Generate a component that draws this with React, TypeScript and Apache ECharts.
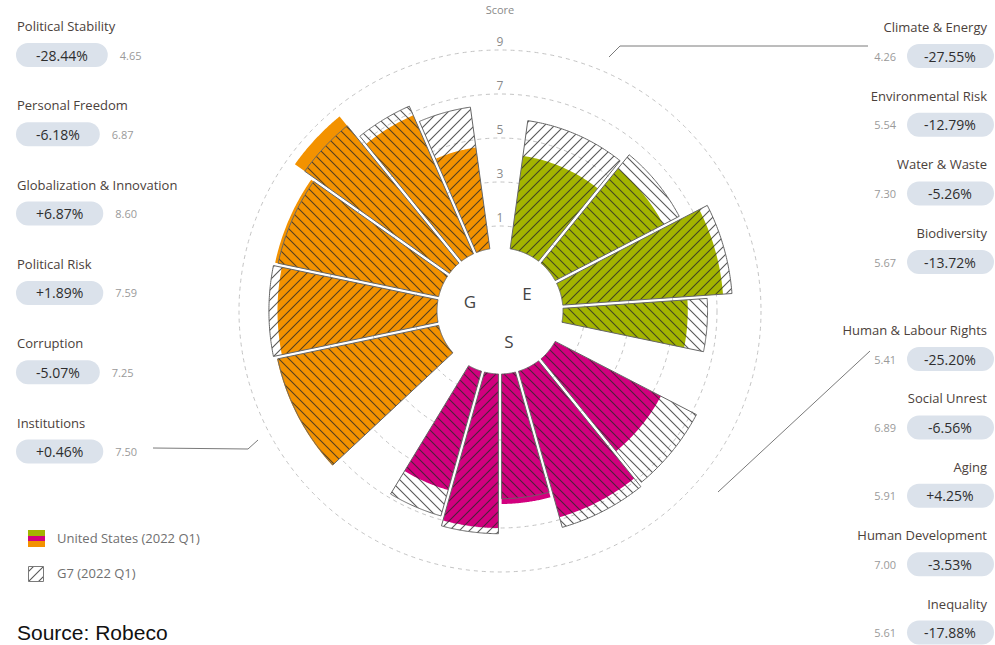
import React, { useEffect, useRef } from 'react';
import * as echarts from 'echarts';

// Country sustainability scores, listed clockwise from the top of the rose
const categories = [
  'Climate & Energy', 'Environmental Risk', 'Water & Waste', 'Biodiversity',
  'Human & Labour Rights', 'Social Unrest', 'Aging', 'Human Development', 'Inequality',
  'Institutions', 'Corruption', 'Political Risk', 'Globalization & Innovation', 'Personal Freedom', 'Political Stability',
];
const pillars = ['E', 'E', 'E', 'E', 'S', 'S', 'S', 'S', 'S', 'G', 'G', 'G', 'G', 'G', 'G'];
const weights = [4, 3, 3, 2, 3, 3, 2, 2, 2, 4, 3, 3, 2, 2, 2];
const usScores = [4.26, 5.54, 7.30, 5.67, 5.41, 6.89, 5.91, 7.00, 5.61, 7.50, 7.25, 7.59, 8.60, 6.87, 4.65];
const g7Scores = [5.88, 6.35, 7.71, 6.57, 7.23, 7.37, 5.67, 7.26, 6.83, 7.47, 7.64, 7.45, 8.05, 7.32, 6.50];
const diffVsG7 = ['-27.55%', '-12.79%', '-5.26%', '-13.72%', '-25.20%', '-6.56%', '+4.25%', '-3.53%', '-17.88%',
  '+0.46%', '-5.07%', '+1.89%', '+6.87%', '-6.18%', '-28.44%'];
const ringLabels = [1, 3, 5, 7, 9];
const seriesNames = ['United States (2022 Q1)', 'G7 (2022 Q1)'];
const pillarGap = 2;

const FONT = '"Open Sans", "Noto Sans", sans-serif';
const CX = 500;
const CY = 311;
const PILLAR_COLORS: Record<string, string> = { E: '#a3b400', S: '#d2007e', G: '#f39200' };
const RISING_HATCH = new Set(['Climate & Energy', 'Water & Waste', 'Human Development', 'Corruption', 'Political Stability']);
const PILL_BG = '#dbe2eb';
const NAME_COLOR = '#4b413b';
const NUM_COLOR = '#9a9a9a';
const OUTLINE = '#666666';

// angular span (in weight units) of every bar, with a gap between pillars
const spans: [number, number][] = [];
let cursor = pillarGap / 2;
categories.forEach((_, i) => {
  if (i > 0 && pillars[i] !== pillars[i - 1]) cursor += pillarGap;
  spans.push([cursor, cursor + weights[i]]);
  cursor += weights[i];
});
const angleMax = cursor + pillarGap / 2;

function hatch(rising: boolean) {
  const s = 10;
  const d = rising
    ? `M0 ${s} L${s} 0 M-2 2 L2 -2 M${s - 2} ${s + 2} L${s + 2} ${s - 2}`
    : `M0 0 L${s} ${s} M-2 ${s - 2} L2 ${s + 2} M${s - 2} -2 L${s + 2} 2`;
  const svg = `<svg xmlns="http://www.w3.org/2000/svg" width="${s}" height="${s}"><path d="${d}" stroke="rgba(40,40,40,0.78)" stroke-width="1.1" fill="none"/></svg>`;
  return {
    image: 'data:image/svg+xml;charset=utf-8,' + encodeURIComponent(svg),
    repeat: 'repeat',
    imageWidth: s,
    imageHeight: s,
  };
}

// annular sector as a polygon whose radial edges are pulled in by a constant pad
function sectorPoints(params: any, api: any, pad: number) {
  const cs = params.coordSys;
  const cx = cs.cx;
  const cy = cs.cy;
  const a0 = api.value(1);
  const a1 = api.value(2);
  const p0 = api.coord([0, a0]);
  const p1 = api.coord([0, a1]);
  const pv = api.coord([api.value(0), a0]);
  const r0 = Math.hypot(p0[0] - cx, p0[1] - cy);
  const r1 = Math.hypot(pv[0] - cx, pv[1] - cy);
  const t0 = Math.atan2(p0[1] - cy, p0[0] - cx);
  let t1 = Math.atan2(p1[1] - cy, p1[0] - cx);
  while (t1 <= t0) t1 += Math.PI * 2;
  const pts: number[][] = [];
  const n = 48;
  const po = Math.asin(Math.min(pad / r1, 1));
  const pi = Math.asin(Math.min(pad / r0, 1));
  for (let k = 0; k <= n; k++) {
    const a = t0 + po + (t1 - t0 - 2 * po) * (k / n);
    pts.push([cx + r1 * Math.cos(a), cy + r1 * Math.sin(a)]);
  }
  for (let k = n; k >= 0; k--) {
    const a = t0 + pi + (t1 - t0 - 2 * pi) * (k / n);
    pts.push([cx + r0 * Math.cos(a), cy + r0 * Math.sin(a)]);
  }
  return pts;
}

function sideLabels(): any[] {
  const out: any[] = [];
  // left column: governance, top to bottom
  const leftOrder = [14, 13, 12, 11, 10, 9];
  leftOrder.forEach((i, k) => {
    const yName = 26 + 79.3 * k;
    const yPill = yName + 29;
    out.push({
      type: 'text', x: 17, y: yName,
      style: { text: categories[i], font: `13px ${FONT}`, fill: NAME_COLOR, align: 'left', verticalAlign: 'middle' },
    });
    out.push({
      type: 'text', x: 16, y: yPill,
      style: {
        text: `{p|${diffVsG7[i]}}{n|${usScores[i].toFixed(2)}}`,
        align: 'left', verticalAlign: 'middle',
        rich: {
          p: {
            fill: '#2e2e2e', fontSize: 14, fontFamily: FONT, lineHeight: 16,
            backgroundColor: PILL_BG, borderRadius: 13, padding: [5, 20, 5, 20], verticalAlign: 'middle',
          },
          n: { fill: NUM_COLOR, fontSize: 11, fontFamily: FONT, lineHeight: 16, padding: [0, 0, 0, 12], verticalAlign: 'middle' },
        },
      },
    });
  });
  // right column: environment then social
  for (let i = 0; i <= 8; i++) {
    const yName = i < 4 ? 27 + 68.7 * i : 330 + 68.4 * (i - 4);
    const yPill = yName + 29;
    out.push({
      type: 'text', x: 987, y: yName,
      style: { text: categories[i], font: `13px ${FONT}`, fill: NAME_COLOR, align: 'right', verticalAlign: 'middle' },
    });
    out.push({
      type: 'rect', shape: { x: 907, y: yPill - 12, width: 87, height: 24, r: 12 },
      style: { fill: PILL_BG },
    });
    out.push({
      type: 'text', x: 950, y: yPill,
      style: { text: diffVsG7[i], font: `14px ${FONT}`, fill: '#2e2e2e', align: 'center', verticalAlign: 'middle' },
    });
    out.push({
      type: 'text', x: 896, y: yPill,
      style: { text: usScores[i].toFixed(2), font: `11px ${FONT}`, fill: NUM_COLOR, align: 'right', verticalAlign: 'middle' },
    });
  }
  return out;
}

function decorations(): any[] {
  const line = { stroke: '#7a7a7a', lineWidth: 1, fill: 'none' };
  return [
    { type: 'text', x: CX, y: 9, style: { text: 'Score', font: `11px ${FONT}`, fill: '#8a8a8a', align: 'center', verticalAlign: 'middle' } },
    { type: 'polyline', shape: { points: [[609, 57], [620, 46], [868, 46]] }, style: line },
    { type: 'polyline', shape: { points: [[153, 448], [248, 449], [258, 440]] }, style: line },
    { type: 'polyline', shape: { points: [[718, 492], [870, 351]] }, style: line },
    { type: 'text', x: CX - 30, y: CY - 10, style: { text: 'G', font: `17px ${FONT}`, fill: '#444', align: 'center', verticalAlign: 'middle' } },
    { type: 'text', x: CX + 27, y: CY - 18, style: { text: 'E', font: `17px ${FONT}`, fill: '#444', align: 'center', verticalAlign: 'middle' } },
    { type: 'text', x: CX + 9, y: CY + 30, style: { text: 'S', font: `17px ${FONT}`, fill: '#444', align: 'center', verticalAlign: 'middle' } },
    // legend
    { type: 'rect', shape: { x: 28, y: 530, width: 17, height: 6 }, style: { fill: PILLAR_COLORS.E } },
    { type: 'rect', shape: { x: 28, y: 536, width: 17, height: 5 }, style: { fill: PILLAR_COLORS.S } },
    { type: 'rect', shape: { x: 28, y: 541, width: 17, height: 6 }, style: { fill: PILLAR_COLORS.G } },
    { type: 'text', x: 57, y: 538, style: { text: seriesNames[0], font: `13px ${FONT}`, fill: '#707070', align: 'left', verticalAlign: 'middle' } },
    { type: 'rect', shape: { x: 28.5, y: 566.5, width: 15, height: 15 }, style: { fill: hatch(true), stroke: '#7a7a7a', lineWidth: 1 } },
    { type: 'text', x: 57, y: 573, style: { text: seriesNames[1], font: `13px ${FONT}`, fill: '#707070', align: 'left', verticalAlign: 'middle' } },
    { type: 'text', x: 17, y: 632, style: { text: 'Source: Robeco', font: `21px "Liberation Sans", sans-serif`, fill: '#111', align: 'left', verticalAlign: 'middle' } },
  ];
}

export default function App() {
  const ref = useRef<HTMLDivElement>(null);

  useEffect(() => {
    const el = ref.current;
    if (!el) return;
    const chart = echarts.init(el, null, { renderer: 'svg' });

    const usData = categories.map((_, i) => [usScores[i], spans[i][0], spans[i][1], i]);
    const g7Data = categories.map((_, i) => [g7Scores[i], spans[i][0], spans[i][1], i]);

    const option: any = {
      animation: false,
      backgroundColor: '#ffffff',
      polar: { center: [CX, CY], radius: [63, 283] },
      angleAxis: { type: 'value', min: 0, max: angleMax, startAngle: 90, clockwise: true, show: false },
      radiusAxis: {
        type: 'value', min: 0, max: 10, interval: 1,
        axisLine: { show: false },
        axisTick: { show: false },
        axisLabel: {
          formatter: (v: number) => (ringLabels.includes(v) ? String(v) : ''),
          color: '#8a8a8a', fontSize: 12, fontFamily: FONT,
          align: 'center', verticalAlign: 'bottom', margin: 0, padding: [0, 0, 3, 0],
        },
        splitLine: { show: true, lineStyle: { color: ['rgba(0,0,0,0)', '#c4c4c4'], type: [4, 4], width: 1 } },
      },
      series: [
        {
          name: seriesNames[0],
          type: 'custom',
          coordinateSystem: 'polar',
          encode: { radius: 0, angle: 1 },
          data: usData,
          renderItem: (params: any, api: any) => {
            const i = api.value(3);
            return {
              type: 'polygon',
              shape: { points: sectorPoints(params, api, 1.6) },
              style: { fill: PILLAR_COLORS[pillars[i]] },
            };
          },
        },
        {
          name: seriesNames[1],
          type: 'custom',
          coordinateSystem: 'polar',
          encode: { radius: 0, angle: 1 },
          data: g7Data,
          renderItem: (params: any, api: any) => {
            const i = api.value(3);
            return {
              type: 'polygon',
              shape: { points: sectorPoints(params, api, 1.6) },
              style: { fill: hatch(RISING_HATCH.has(categories[i])), stroke: OUTLINE, lineWidth: 1 },
            };
          },
        },
      ],
      graphic: [...decorations(), ...sideLabels()],
    };

    chart.setOption(option);
    return () => chart.dispose();
  }, []);

  return (
    <div
      ref={ref}
      style={{ position: 'absolute', left: 0, top: 0, width: 995, height: 645, background: '#fff' }}
    />
  );
}
